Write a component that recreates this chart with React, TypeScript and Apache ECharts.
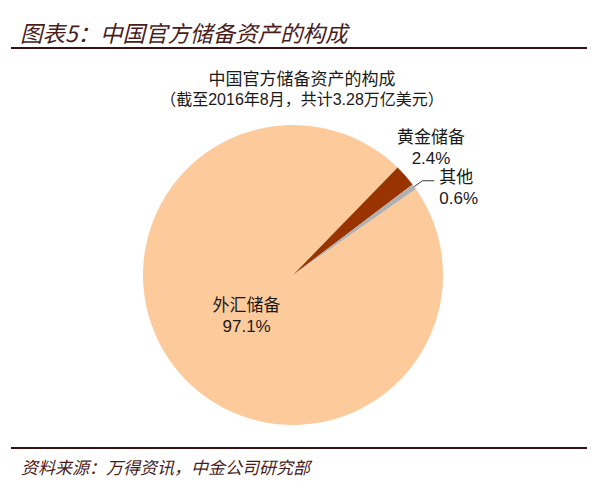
import React, { useEffect, useRef } from "react";
import * as echarts from "echarts";

const headerTitle = "图表5：中国官方储备资产的构成";
const chartTitle = "中国官方储备资产的构成";
const chartSubtitle = "（截至2016年8月，共计3.28万亿美元）";
const sourceNote = "资料来源：万得资讯，中金公司研究部";

const categories = ["外汇储备", "黄金储备", "其他"];
const shares = [97.1, 2.4, 0.6];
const sliceColors = ["#FDCB9B", "#993300", "#B0B0B0"];

const CJK = '"Noto Sans CJK SC", "Liberation Sans", sans-serif';
const LABEL_FONT = '"Liberation Sans", "Noto Sans CJK SC", sans-serif';

export default function App() {
  const ref = useRef<HTMLDivElement>(null);
  useEffect(() => {
    if (!ref.current) return;
    const chart = echarts.init(ref.current, undefined, { renderer: "svg" });
    const data = categories.map((name, i) => {
      const base: any = {
        name,
        value: shares[i],
        itemStyle: { color: sliceColors[i] },
      };
      if (i === 0) {
        base.label = { position: "inside" };
        base.labelLine = { show: false };
      } else if (i === 1) {
        base.label = { position: "outside" };
        base.labelLine = { show: false };
      } else {
        base.label = { position: "outside" };
        base.labelLine = {
          show: true,
          length: 10,
          length2: 12,
          lineStyle: { color: "#333333", width: 1 },
        };
      }
      return base;
    });
    chart.setOption({
      animation: false,
      backgroundColor: "#ffffff",
      title: [
        {
          text: headerTitle,
          left: 15,
          top: 16,
          textStyle: {
            fontFamily: CJK,
            fontSize: 22.5,
            fontStyle: "italic",
            fontWeight: "normal",
            color: "#4a1c1c",
          },
        },
        {
          text: chartTitle,
          left: 297,
          top: 64,
          textAlign: "center",
          textStyle: {
            fontFamily: CJK,
            fontSize: 17,
            fontWeight: "normal",
            color: "#1a1a1a",
          },
        },
        {
          text: chartSubtitle,
          left: 297,
          top: 86,
          textAlign: "center",
          textStyle: {
            fontFamily: LABEL_FONT,
            fontSize: 16,
            fontWeight: "normal",
            color: "#1a1a1a",
          },
        },
        {
          text: sourceNote,
          left: 16,
          top: 453,
          textStyle: {
            fontFamily: CJK,
            fontSize: 17,
            fontStyle: "italic",
            fontWeight: "normal",
            color: "#4a1c1c",
          },
        },
      ],
      graphic: [
        {
          type: "line",
          shape: { x1: 11, y1: 48, x2: 587, y2: 48 },
          style: { stroke: "#3a1212", lineWidth: 2 },
        },
        {
          type: "line",
          shape: { x1: 11, y1: 448, x2: 587, y2: 448 },
          style: { stroke: "#3a1212", lineWidth: 2 },
        },
      ],
      series: [
        {
          type: "pie",
          center: [293, 275],
          radius: 150,
          startAngle: 35,
          clockwise: true,
          avoidLabelOverlap: false,
          data,
          label: {
            show: true,
            fontFamily: LABEL_FONT,
            fontSize: 17,
            lineHeight: 21,
            color: "#1a1a1a",
            formatter: (p: any) => `${p.name}\n${p.value}%`,
          },
          labelLayout: (p: any) => {
            if (p.dataIndex === 0) return { dx: 13, dy: -10 };
            if (p.dataIndex === 1)
              return { x: 431, y: 148, align: "center", verticalAlign: "middle" };
            return { dy: 7 };
          },
          emphasis: { disabled: true },
        },
      ],
    });
    return () => chart.dispose();
  }, []);
  return (
    <div
      ref={ref}
      style={{ position: "fixed", left: 0, top: 0, width: 600, height: 492 }}
    />
  );
}
